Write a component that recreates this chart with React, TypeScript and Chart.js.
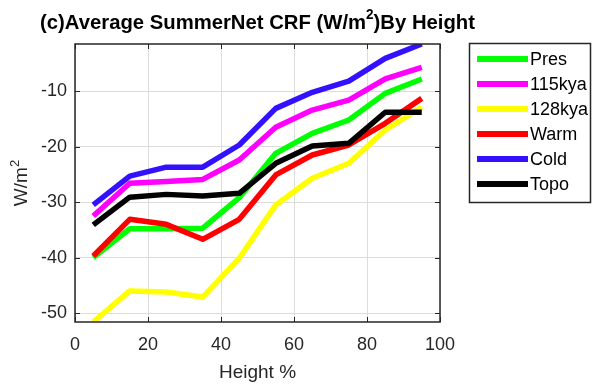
import React, { useEffect, useRef } from 'react';
import { Chart, registerables } from 'chart.js';

Chart.register(...registerables);

const heights = [5, 15, 25, 35, 45, 55, 65, 75, 85, 95];
const pres = [-40.0, -34.8, -34.8, -34.7, -29.2, -21.2, -17.6, -15.2, -10.4, -7.8];
const kya115 = [-32.5, -26.6, -26.3, -25.9, -22.4, -16.5, -13.4, -11.6, -7.8, -5.7];
const kya128 = [-51.6, -46.0, -46.2, -47.1, -40.1, -30.5, -25.7, -23.0, -17.0, -12.9];
const warm = [-39.7, -33.1, -34.0, -36.7, -33.1, -25.1, -21.5, -19.7, -15.8, -11.3];
const cold = [-30.5, -25.3, -23.7, -23.7, -19.7, -13.1, -10.2, -8.2, -4.1, -1.5];
const topo = [-34.1, -29.1, -28.6, -28.9, -28.4, -23.0, -19.9, -19.4, -13.8, -13.8];

const seriesNames = ['Pres', '115kya', '128kya', 'Warm', 'Cold', 'Topo'];
const seriesColors = ['#00ff00', '#ff00ff', '#ffff00', '#ff0000', '#3311ff', '#000000'];
const seriesValues = [pres, kya115, kya128, warm, cold, topo];

const xTicks = [0, 20, 40, 60, 80, 100];
const yTicks = [-50, -40, -30, -20, -10];
const xMin = 0;
const xMax = 100;
const yMin = -51.6;
const yMax = -1.5;

const titleMain = '(c)Average SummerNet CRF (W/m';
const titleSup = '2';
const titleEnd = ')By Height';
const xTitle = 'Height %';
const yTitleMain = 'W/m';
const yTitleSup = '2';

const FONT = '"Liberation Sans", Arial, Helvetica, sans-serif';
const TEXT_COLOR = '#262626';

const decorPlugin = {
  id: 'decor',
  afterDraw(chart: any) {
    const ctx = chart.ctx as CanvasRenderingContext2D;
    const { left, right, top, bottom } = chart.chartArea;
    const xs = chart.scales.x;
    const ys = chart.scales.y;
    ctx.save();

    // axes box
    ctx.strokeStyle = TEXT_COLOR;
    ctx.lineWidth = 1.5;
    ctx.strokeRect(left, top, right - left, bottom - top);

    // inward ticks on all four sides
    ctx.lineWidth = 1;
    const tl = 5;
    ctx.beginPath();
    xTicks.forEach((v) => {
      const px = Math.round(xs.getPixelForValue(v)) + 0.5;
      ctx.moveTo(px, bottom);
      ctx.lineTo(px, bottom - tl);
      ctx.moveTo(px, top);
      ctx.lineTo(px, top + tl);
    });
    yTicks.forEach((v) => {
      const py = Math.round(ys.getPixelForValue(v)) + 0.5;
      ctx.moveTo(left, py);
      ctx.lineTo(left + tl, py);
      ctx.moveTo(right, py);
      ctx.lineTo(right - tl, py);
    });
    ctx.stroke();

    // title (condensed to the reference width)
    ctx.fillStyle = '#000';
    ctx.textBaseline = 'middle';
    ctx.textAlign = 'left';
    const tFont = `bold 21px ${FONT}`;
    const sFont = `bold 14px ${FONT}`;
    ctx.font = tFont;
    const w1 = ctx.measureText(titleMain).width;
    const w3 = ctx.measureText(titleEnd).width;
    ctx.font = sFont;
    const w2 = ctx.measureText(titleSup).width;
    const total = w1 + w2 + w3;
    const targetW = 435;
    const sx = Math.min(1, targetW / total);
    const cx = (left + right) / 2;
    ctx.save();
    ctx.translate(cx - (total * sx) / 2, 23);
    ctx.scale(sx, 1);
    let tx = 0;
    ctx.font = tFont;
    ctx.fillText(titleMain, tx, 0);
    tx += w1;
    ctx.font = sFont;
    ctx.fillText(titleSup, tx, -8);
    tx += w2;
    ctx.font = tFont;
    ctx.fillText(titleEnd, tx, 0);
    ctx.restore();

    // x title
    ctx.fillStyle = TEXT_COLOR;
    ctx.font = `19px ${FONT}`;
    ctx.textAlign = 'center';
    ctx.fillText(xTitle, cx, 373);

    // y title
    ctx.save();
    ctx.translate(22, (top + bottom) / 2);
    ctx.rotate(-Math.PI / 2);
    ctx.font = `19px ${FONT}`;
    const yw1 = ctx.measureText(yTitleMain).width;
    ctx.font = `13px ${FONT}`;
    const yw2 = ctx.measureText(yTitleSup).width;
    const ystart = -(yw1 + yw2) / 2;
    ctx.textAlign = 'left';
    ctx.font = `19px ${FONT}`;
    ctx.fillText(yTitleMain, ystart, 0);
    ctx.font = `13px ${FONT}`;
    ctx.fillText(yTitleSup, ystart + yw1, -7);
    ctx.restore();

    // legend
    const lx = 469.5;
    const ly = 43.5;
    const lw = 121;
    const lh = 159;
    ctx.fillStyle = '#fff';
    ctx.fillRect(lx, ly, lw, lh);
    ctx.strokeStyle = TEXT_COLOR;
    ctx.lineWidth = 1.5;
    ctx.strokeRect(lx, ly, lw, lh);
    ctx.font = `18px ${FONT}`;
    ctx.textAlign = 'left';
    ctx.textBaseline = 'middle';
    seriesNames.forEach((name, i) => {
      const ry = 59 + i * 25;
      ctx.fillStyle = seriesColors[i];
      ctx.fillRect(477, ry - 3, 51, 6);
      ctx.fillStyle = '#000';
      ctx.fillText(name, 530, ry + 1);
    });

    ctx.restore();
  },
};

export default function App() {
  const canvasRef = useRef<HTMLCanvasElement | null>(null);

  useEffect(() => {
    const canvas = canvasRef.current;
    if (!canvas) return;
    const datasets = seriesNames.map((name, i) => ({
      label: name,
      data: heights.map((h, j) => ({ x: h, y: seriesValues[i][j] })),
      borderColor: seriesColors[i],
      backgroundColor: seriesColors[i],
      borderWidth: 5.5,
      pointRadius: 0,
      tension: 0,
      fill: false,
      borderJoinStyle: 'round' as const,
      order: seriesNames.length - i,
    }));

    const chart = new Chart(canvas, {
      type: 'line',
      data: { datasets },
      options: {
        responsive: false,
        animation: false,
        events: [],
        layout: { padding: { top: 44, right: 155, left: 0, bottom: 0 } },
        plugins: {
          legend: { display: false },
          title: { display: false },
          tooltip: { enabled: false },
        },
        scales: {
          x: {
            type: 'linear',
            min: xMin,
            max: xMax,
            afterBuildTicks: (s: any) => {
              s.ticks = xTicks.map((v) => ({ value: v }));
            },
            afterFit: (s: any) => {
              s.height = 68;
            },
            grid: { color: '#dcdcdc', lineWidth: 1, drawTicks: false },
            border: { display: false },
            ticks: {
              font: { family: FONT, size: 18 },
              color: TEXT_COLOR,
              padding: 12,
              maxRotation: 0,
            },
          },
          y: {
            type: 'linear',
            min: yMin,
            max: yMax,
            afterBuildTicks: (s: any) => {
              s.ticks = yTicks.map((v) => ({ value: v }));
            },
            afterFit: (s: any) => {
              s.width = 75;
            },
            grid: { color: '#dcdcdc', lineWidth: 1, drawTicks: false },
            border: { display: false },
            ticks: {
              font: { family: FONT, size: 18 },
              color: TEXT_COLOR,
              padding: 8,
            },
          },
        },
      },
      plugins: [decorPlugin],
    });
    return () => chart.destroy();
  }, []);

  return (
    <div style={{ position: 'absolute', left: 0, top: 0, width: 595, height: 390, background: '#fff' }}>
      <canvas ref={canvasRef} width={595} height={390} style={{ display: 'block' }} />
    </div>
  );
}
